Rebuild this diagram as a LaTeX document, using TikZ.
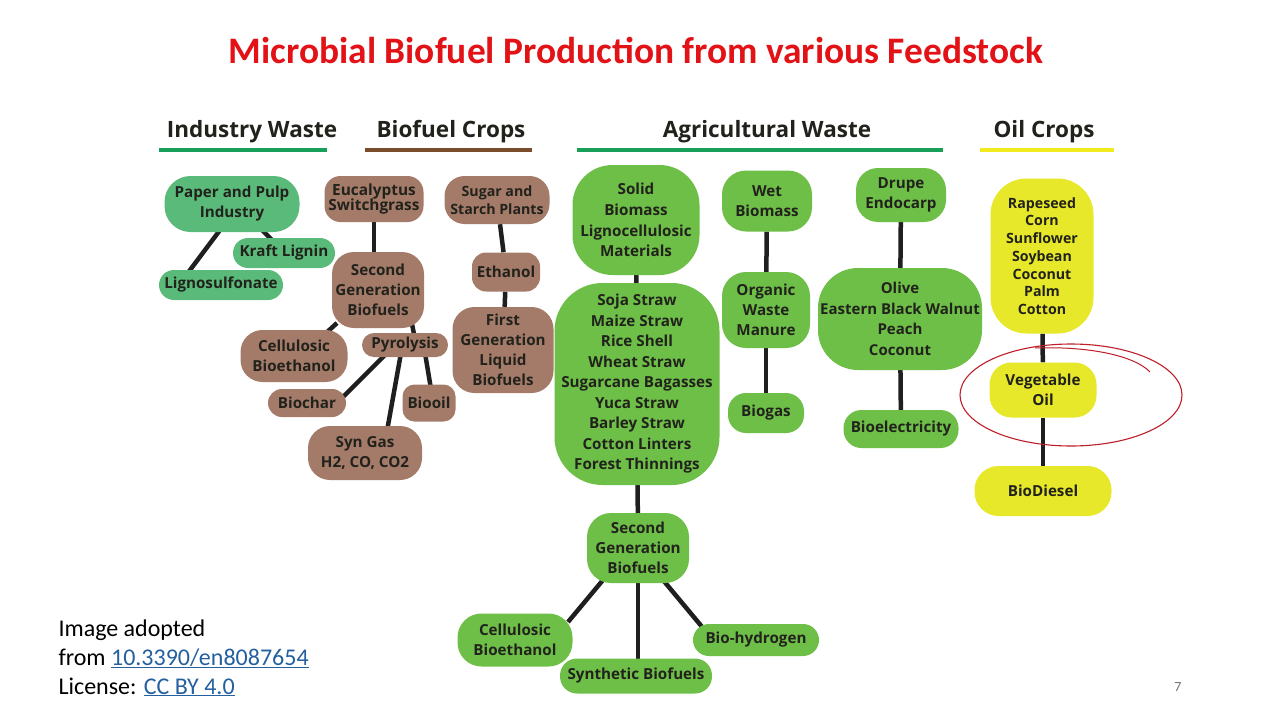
\documentclass[tikz,border=0pt]{standalone}
\usepackage{fontspec}
\setmainfont{Carlito}
\newfontfamily\diag{Open Sans}
\usetikzlibrary{calc,backgrounds}
\definecolor{indg}{RGB}{90,186,122}
\definecolor{agrg}{RGB}{110,191,72}
\definecolor{brn}{RGB}{164,123,105}
\definecolor{oily}{RGB}{232,232,42}
\definecolor{lineg}{RGB}{24,160,90}
\definecolor{lineb}{RGB}{122,76,44}
\definecolor{liney}{RGB}{240,234,30}
\definecolor{ttlred}{RGB}{226,18,22}
\definecolor{txt}{RGB}{34,34,28}
\definecolor{linkblue}{RGB}{36,96,160}
\definecolor{annot}{RGB}{190,30,40}
\begin{document}
\begin{tikzpicture}[x=1pt,y=-1pt,
  box/.style={inner sep=0pt, align=center, text=txt},
  f15/.style={font=\diag\bfseries\fontsize{15.2}{20}\selectfont},
  f14/.style={font=\diag\bfseries\fontsize{14.2}{17.7}\selectfont},
  ftight/.style={font=\diag\bfseries\fontsize{15.4}{15.5}\selectfont},
  ind/.style={box, f15, fill=indg},
  bro/.style={box, f15, fill=brn},
  agr/.style={box, f15, fill=agrg},
  oil/.style={box, f15, fill=oily},
  link/.style={line width=4.5pt, draw=black!88},
  hdr/.style={anchor=base, text=txt, font=\diag\bfseries\fontsize{22.5}{26}\selectfont},
  uline/.style={line width=3.2pt},
  cred/.style={anchor=base west, font=\fontsize{24}{28}\selectfont, text=black}
]
\useasboundingbox (0,0) rectangle (1280,720);

% title
\node[anchor=base, text=ttlred, font=\bfseries\fontsize{37.4}{40}\selectfont] (title) at (636,63) {Microbial Biofuel Production from various Feedstock};

% headers
\node[hdr] (hInd) at (252,137) {Industry Waste};
\node[hdr] (hBio) at (451,137) {Biofuel Crops};
\node[hdr] (hAgr) at (767,137) {Agricultural Waste};
\node[hdr] (hOil) at (1044,137) {Oil Crops};
\draw[uline, lineg] (159,150) -- (327,150);
\draw[uline, lineb] (365,150) -- (532,150);
\draw[uline, lineg] (577,150) -- (943,150);
\draw[uline, liney] (980,150) -- (1114,150);

% industry waste
\node[ind, minimum width=135pt, minimum height=56pt, rounded corners=26pt] (paper) at (232,204) {Paper and Pulp\\Industry};
\node[ind, minimum width=102pt, minimum height=30pt, rounded corners=15pt] (kraft) at (284,253) {Kraft Lignin};
\node[ind, minimum width=124pt, minimum height=30pt, rounded corners=15pt] (ligno) at (221,285) {Lignosulfonate};

% biofuel crops
\node[bro, ftight, minimum width=99pt, minimum height=46pt, rounded corners=16pt] (euca) at (374,199) {Eucalyptus\\Switchgrass};
\node[bro, font=\diag\bfseries\fontsize{14.2}{18}\selectfont, minimum width=105pt, minimum height=48pt, rounded corners=20pt] (sugar) at (497,200) {Sugar and\\Starch Plants};
\node[bro, minimum width=92pt, minimum height=76pt, rounded corners=22pt] (sec1) at (378,290) {Second\\Generation\\Biofuels};
\node[bro, minimum width=68pt, minimum height=39pt, rounded corners=14pt] (ethanol) at (506,272) {Ethanol};
\node[bro, minimum width=101pt, minimum height=86pt, rounded corners=22pt] (first) at (503,350) {First\\Generation\\Liquid\\Biofuels};
\node[bro, minimum width=107pt, minimum height=52pt, rounded corners=22pt] (cell1) at (294,356) {Cellulosic\\Bioethanol};
\node[bro, minimum width=86pt, minimum height=24pt, rounded corners=12pt] (pyro) at (405,345) {Pyrolysis};
\node[bro, minimum width=78pt, minimum height=28pt, rounded corners=14pt] (biochar) at (307,403) {Biochar};
\node[bro, minimum width=53pt, minimum height=37pt, rounded corners=12pt] (biooil) at (429,403) {Biooil};
\node[bro, minimum width=114pt, minimum height=54pt, rounded corners=22pt] (syngas) at (365,453) {Syn Gas\\H2, CO, CO2};

% agricultural waste
\node[agr, font=\diag\bfseries\fontsize{15.2}{20.7}\selectfont, minimum width=127pt, minimum height=110pt, rounded corners=40pt] (solid) at (636,220) {Solid\\Biomass\\Lignocellulosic\\Materials};
\node[agr, font=\diag\bfseries\fontsize{15.2}{20.5}\selectfont, minimum width=165pt, minimum height=202pt, rounded corners=48pt] (list) at (637,384) {Soja Straw\\Maize Straw\\Rice Shell\\Wheat Straw\\Sugarcane Bagasses\\Yuca Straw\\Barley Straw\\Cotton Linters\\Forest Thinnings};
\node[agr, minimum width=90pt, minimum height=61pt, rounded corners=24pt] (wet) at (767,201) {Wet\\Biomass};
\node[agr, minimum width=88pt, minimum height=76pt, rounded corners=24pt] (organic) at (766,310) {Organic\\Waste\\Manure};
\node[agr, minimum width=76pt, minimum height=40pt, rounded corners=18pt] (biogas) at (766,413) {Biogas};
\node[agr, minimum width=90pt, minimum height=54pt, rounded corners=22pt] (drupe) at (901,195) {Drupe\\Endocarp};
\node[agr, font=\diag\bfseries\fontsize{15}{20.7}\selectfont, minimum width=164pt, minimum height=102pt, rounded corners=40pt] (olive) at (900,319) {Olive\\Eastern Black Walnut\\Peach\\Coconut};
\node[agr, minimum width=115pt, minimum height=38pt, rounded corners=18pt] (bioelec) at (901,429) {Bioelectricity};
\node[agr, minimum width=102pt, minimum height=70pt, rounded corners=24pt] (sec2) at (638,548) {Second\\Generation\\Biofuels};
\node[agr, minimum width=115pt, minimum height=53pt, rounded corners=24pt] (cell2) at (515,640) {Cellulosic\\Bioethanol};
\node[agr, minimum width=152pt, minimum height=35pt, rounded corners=17pt] (synth) at (636,676) {Synthetic Biofuels};
\node[agr, minimum width=126pt, minimum height=32pt, rounded corners=16pt] (hydro) at (756,640) {Bio-hydrogen};

% oil crops
\node[oil, f14, minimum width=103pt, minimum height=155pt, rounded corners=36pt] (rape) at (1042,256) {Rapeseed\\Corn\\Sunflower\\Soybean\\Coconut\\Palm\\Cotton};
\node[oil, minimum width=107pt, minimum height=55pt, rounded corners=22pt] (veg) at (1043,390) {Vegetable\\Oil};
\node[oil, minimum width=137pt, minimum height=50pt, rounded corners=24pt] (biod) at (1043,491) {BioDiesel};

% connectors
\begin{pgfonlayer}{background}
\fill[white] (0,0) rectangle (1280,720);
\draw[link] ($(paper)+(-12,26)$) -- ($(ligno)+(-34,-11)$);
\draw[link] ($(paper)+(30,26)$) -- ($(kraft)+(-9,-10)$);
\draw[link] (euca) -- (euca |- sec1);
\draw[link] (sugar) -- (ethanol);
\draw[link] (ethanol) -- (first);
\draw[link] ($(sec1)+(-41,33)$) -- ($(cell1)+(31,-22)$);
\draw[link] ($(sec1)+(34,34)$) -- ($(pyro)+(10,-6)$);
\draw[link] ($(pyro)+(-18,8)$) -- ($(biochar)+(36,-6)$);
\draw[link] ($(pyro)+(-4,8)$) -- ($(syngas)+(22,-22)$);
\draw[link] ($(pyro)+(20,8)$) -- ($(biooil)+(2,-14)$);
\draw[link] (solid) -- (list);
\draw[link] (list) -- (sec2);
\draw[link] ($(sec2)+(-35,32)$) -- ($(cell2)+(53,-18)$);
\draw[link] (sec2) -- (sec2 |- synth);
\draw[link] ($(sec2)+(25,32)$) -- ($(hydro)+(-53,-12)$);
\draw[link] (wet) -- (organic);
\draw[link] (organic) -- (biogas);
\draw[link] (drupe) -- (olive);
\draw[link] (olive) -- (bioelec);
\draw[link] (rape) -- (veg);
\draw[link] (veg) -- (biod);
\end{pgfonlayer}

% hand-drawn annotation
\draw[annot, line width=1.1pt] (1071,395) ellipse [x radius=111pt, y radius=51pt];
\draw[annot, line width=1pt] (1035,348) .. controls (1090,346) and (1135,356) .. (1150,372);

% credits
\node[cred] (c1) at (55,636) {Image adopted};
\node[cred] (c2) at (55,665) {from \textcolor{linkblue}{\underline{10.3390/en8087654}}};
\node[cred] (c3) at (55,694) {License: \textcolor{linkblue}{\underline{CC BY 4.0}}};
\node[anchor=base, text=black!55, font=\fontsize{14}{16}\selectfont] (pg) at (1178,691) {7};
\end{tikzpicture}
\end{document}
